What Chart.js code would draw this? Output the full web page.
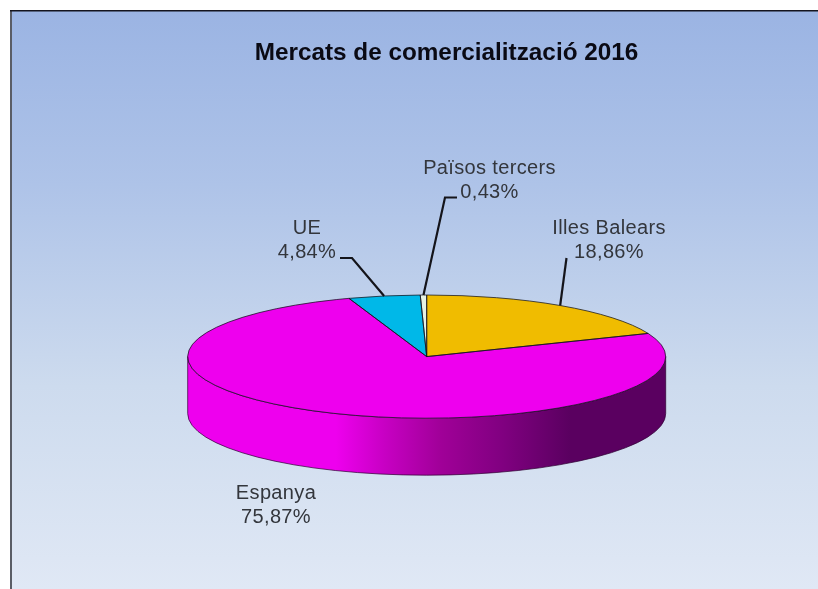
<!DOCTYPE html>
<html lang="ca">
<head>
<meta charset="utf-8">
<style>html,body{margin:0;padding:0;background:#fff;overflow:hidden}canvas{display:block}</style>
<script src="https://cdn.jsdelivr.net/npm/chart.js@4"></script>
</head>
<body>
<canvas id="c" width="818" height="589"></canvas>
<script>
const titleText = 'Mercats de comercialització 2016';
const categories = ['Illes Balears', 'Espanya', 'UE', 'Països tercers'];
const shares = [18.86, 75.87, 4.84, 0.43];
const sliceColours = ['#f0bc00', '#ee00ee', '#00b8e8', '#e6f2e4'];

// layout only
const pie = {x: 426.7, y: 356.6, rx: 239, ry: 61.6, depth: 57};
const squash = pie.ry / pie.rx;
const labelCentres = [[609, 228], [276, 493], [307, 228], [489.5, 168]];
const leaderElbows = [[[566.5, 258]], null, [[352, 258], [340, 258]], [[445, 197.5], [457, 197.5]]];

const fmt = v => v.toFixed(2).replace('.', ',');

const pie3d = {
  id: 'pie3d',
  beforeDraw(chart) {
    const {ctx, width, height} = chart;
    ctx.save();
    ctx.fillStyle = '#ffffff';
    ctx.fillRect(0, 0, width, height);
    const g = ctx.createLinearGradient(0, 11, 0, height);
    g.addColorStop(0, '#9bb4e3');
    g.addColorStop(0.3, '#aec3e8');
    g.addColorStop(0.65, '#cddbee');
    g.addColorStop(1, '#e0e8f5');
    ctx.fillStyle = g;
    ctx.fillRect(11, 11, width - 11, height - 11);
    ctx.fillStyle = '#5a5d66';
    ctx.fillRect(10, 10, 2, height - 10);
    ctx.fillStyle = '#14141e';
    ctx.fillRect(10, 10, width - 10, 1.5);
    ctx.restore();
  },
  beforeDatasetsDraw(chart) {
    const {ctx} = chart;
    const arcs = chart.getDatasetMeta(0).data;
    // side wall, seen only between 0 and 180 degrees
    arcs.forEach(el => {
      const a0 = Math.max(el.startAngle, 0);
      const a1 = Math.min(el.endAngle, Math.PI);
      if (a1 <= a0) return;
      const r = el.outerRadius;
      const g = ctx.createLinearGradient(pie.x - r, 0, pie.x + r, 0);
      g.addColorStop(0, '#ee00ee');
      g.addColorStop(0.31, '#ee00ee');
      g.addColorStop(0.41, '#c800c4');
      g.addColorStop(0.53, '#a00098');
      g.addColorStop(0.66, '#800080');
      g.addColorStop(0.80, '#5a0060');
      g.addColorStop(1, '#5a0060');
      ctx.save();
      ctx.beginPath();
      ctx.ellipse(pie.x, pie.y, r, r * squash, 0, a0, a1);
      ctx.ellipse(pie.x, pie.y + pie.depth, r, r * squash, 0, a1, a0, true);
      ctx.closePath();
      ctx.fillStyle = g;
      ctx.fill();
      ctx.strokeStyle = 'rgba(45,0,50,0.7)';
      ctx.lineWidth = 1;
      ctx.stroke();
      ctx.restore();
    });
    ctx.save();
    const first = arcs[0];
    ctx.translate(pie.x, pie.y);
    ctx.scale(1, squash);
    ctx.translate(-first.x, -first.y);
  },
  afterDatasetsDraw(chart) {
    const {ctx} = chart;
    ctx.restore();
    const arcs = chart.getDatasetMeta(0).data;
    // outlines stroked with an even pen, so the squash does not thin them
    arcs.forEach(el => {
      const r = el.outerRadius;
      ctx.save();
      ctx.beginPath();
      ctx.moveTo(pie.x, pie.y);
      ctx.ellipse(pie.x, pie.y, r, r * squash, 0, el.startAngle, el.endAngle);
      ctx.closePath();
      ctx.strokeStyle = 'rgba(20,20,30,0.75)';
      ctx.lineWidth = 1;
      ctx.stroke();
      ctx.restore();
    });
    // leader lines and labels
    arcs.forEach((el, i) => {
      const mid = (el.startAngle + el.endAngle) / 2;
      const ax = pie.x + el.outerRadius * Math.cos(mid);
      const ay = pie.y + el.outerRadius * squash * Math.sin(mid);
      ctx.save();
      if (leaderElbows[i]) {
        ctx.beginPath();
        ctx.moveTo(ax, ay);
        leaderElbows[i].forEach(p => ctx.lineTo(p[0], p[1]));
        ctx.strokeStyle = '#14141a';
        ctx.lineWidth = 2.2;
        ctx.lineJoin = 'miter';
        ctx.stroke();
      }
      ctx.fillStyle = '#33363c';
      ctx.font = '20px "Liberation Sans", Arial, sans-serif';
      ctx.letterSpacing = '0.35px';
      ctx.textAlign = 'center';
      ctx.textBaseline = 'middle';
      const [lx, ly] = labelCentres[i];
      ctx.fillText(categories[i], lx, ly);
      ctx.fillText(fmt(shares[i]) + '%', lx, ly + 24);
      ctx.restore();
    });
  }
};

new Chart(document.getElementById('c'), {
  type: 'pie',
  data: {
    labels: categories,
    datasets: [{
      data: shares,
      backgroundColor: sliceColours,
      borderWidth: 0,
      clip: false
    }]
  },
  options: {
    responsive: false,
    animation: false,
    radius: pie.rx,
    layout: {padding: {left: 75, right: 0, top: 0, bottom: 0}},
    plugins: {
      legend: {display: false},
      tooltip: {enabled: false},
      title: {
        display: true,
        text: titleText,
        color: '#0a0a14',
        font: {family: '"Liberation Sans", Arial, sans-serif', size: 24.3, weight: 'bold'},
        padding: {top: 39, bottom: 10}
      }
    }
  },
  plugins: [pie3d]
});
</script>
</body>
</html>
